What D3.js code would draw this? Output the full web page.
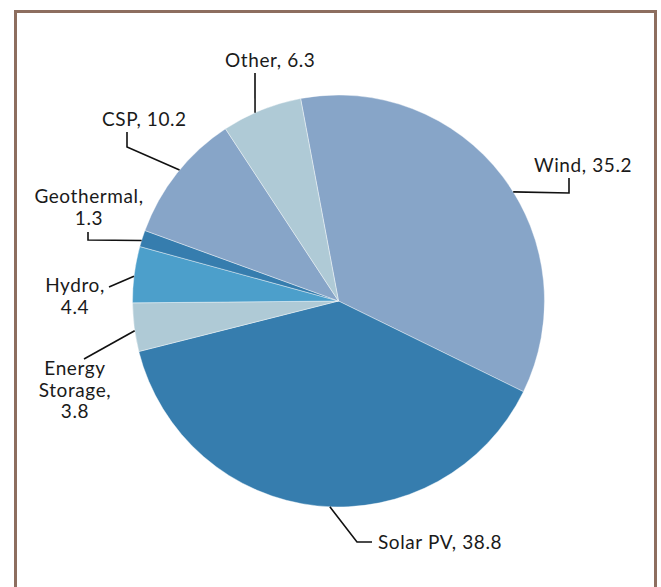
<!DOCTYPE html>
<html>
<head>
<meta charset="utf-8">
<script src="https://cdn.jsdelivr.net/npm/d3@7"></script>
<style>
  body { margin: 0; background: #fff; }
</style>
</head>
<body>
<div id="pie"></div>
<script>
// data
const categories = ['Wind', 'Solar PV', 'Energy Storage', 'Hydro', 'Geothermal', 'CSP', 'Other']
const shares = [35.2, 38.8, 3.8, 4.4, 1.3, 10.2, 6.3]
const sliceColors = ['#87a5c8', '#367dae', '#afcad6', '#4c9fcb', '#367dae', '#87a5c8', '#afcad6']

// label layout (text lines, anchor, leader bends, where the leader meets the rim in degrees)
const labelLayout = [
  { lines: ['Wind, 35.2'], x: 534, y: 172, anchor: 'start', bends: [[569, 178], [569, 193]], rim: 58 },
  { lines: ['Solar PV, 38.8'], x: 378, y: 549, anchor: 'start', bends: [[372, 542], [357, 542]], rim: 182.4 },
  { lines: ['Energy', 'Storage,', '3.8'], x: 75, y: 375, anchor: 'middle', bends: [[84, 359]], rim: 261.7 },
  { lines: ['Hydro,', '4.4'], x: 75, y: 292, anchor: 'middle', bends: [[109, 287]], rim: 276.9 },
  { lines: ['Geothermal,', '1.3'], x: 89, y: 203, anchor: 'middle', bends: [[88, 232], [88, 240]], rim: 287.1 },
  { lines: ['CSP, 10.2'], x: 102, y: 126, anchor: 'start', bends: [[127, 132], [127, 147]], rim: 309.5 },
  { lines: ['Other, 6.3'], x: 225, y: 67, anchor: 'start', bends: [[255, 73]], rim: 336.1 }
]

let dimensions = {
  width: 661,
  height: 587,
  cx: 338.5,
  cy: 301,
  radius: 206
}

const svg = d3.select('#pie')
              .append('svg')
              .attr('width', dimensions.width)
              .attr('height', dimensions.height)

// frame
svg.append('rect')
   .attr('x', 15.5)
   .attr('y', 11.5)
   .attr('width', 640)
   .attr('height', 600)
   .attr('fill', '#fff')
   .attr('stroke', '#8d6e5f')
   .attr('stroke-width', 3)

const container = svg.append('g')
                     .attr('transform', `translate(${dimensions.cx},${dimensions.cy})`)

const startOffset = -10.6 * Math.PI / 180

const pie = d3.pie()
              .sort(null)
              .value(d => d.value)
              .startAngle(startOffset)
              .endAngle(startOffset + 2 * Math.PI)

const arc = d3.arc()
              .innerRadius(0)
              .outerRadius(dimensions.radius)

const slices = pie(categories.map((c, i) => ({ name: c, value: shares[i], color: sliceColors[i] })))

container.selectAll('path')
         .data(slices)
         .join('path')
         .attr('d', arc)
         .attr('fill', d => d.data.color)
         .attr('stroke', '#ffffff')
         .attr('stroke-width', 0.4)

// leaders
const rimPoint = deg => {
  const a = deg * Math.PI / 180
  return [dimensions.cx + dimensions.radius * Math.sin(a), dimensions.cy - dimensions.radius * Math.cos(a)]
}

svg.selectAll('.leader')
   .data(labelLayout)
   .join('polyline')
   .attr('class', 'leader')
   .attr('points', d => d.bends.concat([rimPoint(d.rim)]).map(p => p.join(',')).join(' '))
   .attr('fill', 'none')
   .attr('stroke', '#111')
   .attr('stroke-width', 1.6)

// labels
const labels = svg.selectAll('.label')
                  .data(labelLayout)
                  .join('text')
                  .attr('class', 'label')
                  .attr('x', d => d.x)
                  .attr('y', d => d.y)
                  .attr('text-anchor', d => d.anchor)
                  .attr('font-family', 'Lato, sans-serif')
                  .attr('font-size', '19px')
                  .attr('letter-spacing', '0.6px')
                  .attr('fill', '#1a1a1a')

labels.selectAll('tspan')
      .data(d => d.lines.map((t, i) => ({ t, i, x: d.x })))
      .join('tspan')
      .attr('x', d => d.x)
      .attr('dy', d => d.i === 0 ? 0 : 21.5)
      .text(d => d.t)
</script>
</body>
</html>
